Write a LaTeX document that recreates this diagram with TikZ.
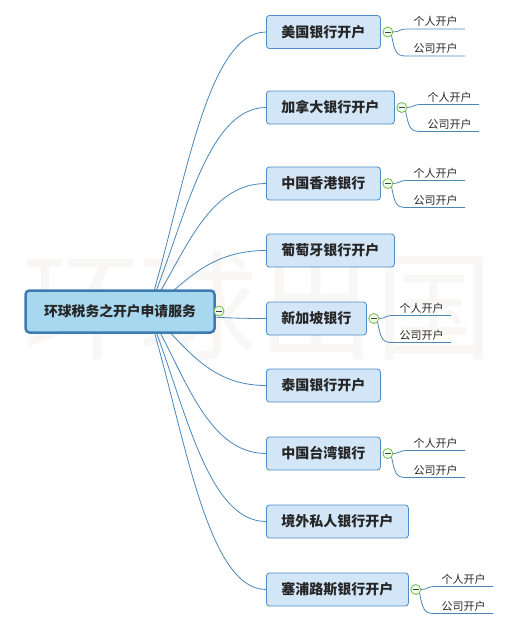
\documentclass[tikz,border=0pt]{standalone}
\usepackage{fontspec}
\newfontfamily\cjk{Noto Sans CJK SC}
\usetikzlibrary{positioning,calc}
\definecolor{rootfill}{HTML}{A8D8F0}
\definecolor{rootline}{HTML}{3E7CB0}
\definecolor{subfill}{HTML}{D2E6F8}
\definecolor{subline}{HTML}{4F8CC3}
\definecolor{linkblue}{HTML}{4A86B8}
\definecolor{knobgreen}{HTML}{7AB648}
\definecolor{wmgrey}{HTML}{F9F6F6}

\begin{document}
\begin{tikzpicture}[
    x=1pt, y=-1pt,
    root/.style={rectangle, draw=rootline, fill=rootfill, line width=2.5pt, rounded corners=4pt, minimum width=189pt, minimum height=42pt, text=black!85, font=\cjk\bfseries\fontsize{13.8}{16}\selectfont},
    sub/.style={rectangle, draw=subline, fill=subfill, line width=0.8pt, rounded corners=3pt, anchor=west, minimum height=33pt, inner xsep=15pt, text=black!85, font=\cjk\bfseries\fontsize{14}{16}\selectfont},
    leaf/.style={anchor=south west, minimum width=59pt, inner xsep=0pt, inner ysep=2pt, text=black!85, font=\cjk\fontsize{11}{13}\selectfont},
    wmtext/.style={text=wmgrey, font=\cjk\fontsize{118}{120}\selectfont},
    link/.style={draw=linkblue, line width=0.8pt},
    knob/.style={circle, draw=knobgreen, fill=green!8, line width=0.8pt, minimum size=10pt, inner sep=0pt,
        path picture={\draw[black!75, line width=0.8pt] ([xshift=-2.8pt]path picture bounding box.center) -- ([xshift=2.8pt]path picture bounding box.center);}}
]
    \useasboundingbox (0,0) rectangle (512,619);
    \node [wmtext] (wm) at (258,306) {环球出国};

    \node [sub] (n1) at (266,32) {美国银行开户};
    \node [sub] (n2) at (266,107.5) {加拿大银行开户};
    \node [sub] (n3) at (266,183.5) {中国香港银行};
    \node [sub] (n4) at (266,250.5) {葡萄牙银行开户};
    \node [sub] (n5) at (266,318.5) {新加坡银行};
    \node [sub] (n6) at (266,385.5) {泰国银行开户};
    \node [sub] (n7) at (266,453.5) {中国台湾银行};
    \node [sub] (n8) at (266,521.5) {境外私人银行开户};
    \node [sub] (n9) at (266,589.5) {塞浦路斯银行开户};

    % curved links from the centre topic
    \coordinate (hub) at (148,311);
    \foreach \n in {n1,n2,n3,n4,n5,n6,n7,n8,n9}
        \draw [link] (hub) .. controls ($(hub)!0.4!(hub |- \n.west)+(35,0)$) and ($(hub |- \n.west)+(57,0)$) .. (\n.west);

    \node [root] (r) at (120,311.5) {环球税务之开户申请服务};
    \node [knob] (rk) at (219,311) {};

    % personal / company sub-branches
    \foreach \n in {n1,n2,n3,n5,n7,n9} {
        \node [knob] (\n-k) at ($(\n.east)+(7,0)$) {};
        \node [leaf] (\n-a) at ($(\n-k)+(18,-3)$) {个人开户};
        \node [leaf] (\n-b) at ($(\n-k)+(18,24)$) {公司开户};
        \draw [link] (\n-k.east) .. controls +(6,0) and +(-6,0) .. (\n-a.south west) -- (\n-a.south east);
        \draw [link] (\n-k.south east) .. controls +(3,15) and +(-10,0) .. (\n-b.south west) -- (\n-b.south east);
    }
\end{tikzpicture}
\end{document}
